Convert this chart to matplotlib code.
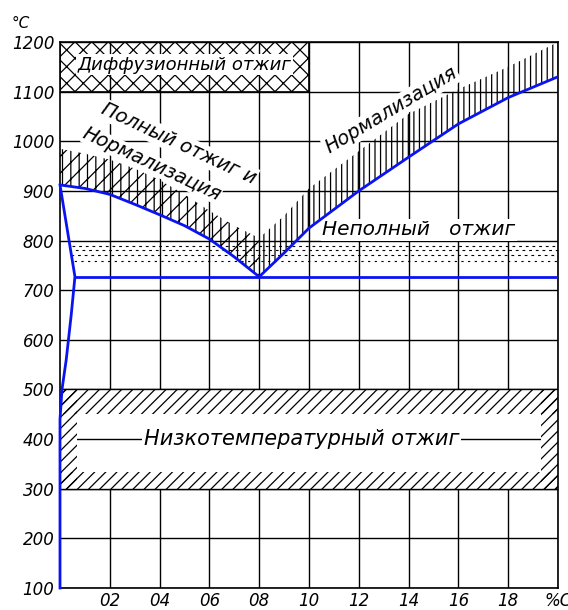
import numpy as np
import matplotlib
matplotlib.use("Agg")
import matplotlib.pyplot as plt
from matplotlib.patches import Rectangle

plt.rcParams['font.family'] = ['DejaVu Sans']
plt.rcParams['hatch.linewidth'] = 0.9

# temperature / carbon grid
temps = [100, 200, 300, 400, 500, 600, 700, 800, 900, 1000, 1100, 1200]
carbon_ticks = [0.2, 0.4, 0.6, 0.8, 1.0, 1.2, 1.4, 1.6, 1.8, 2.0]
carbon_labels = ['02', '04', '06', '08', '10', '12', '14', '16', '18', '%C']

# GS line (A3) and top of the full-anneal band
x_a3 = [0.0, 0.1, 0.2, 0.3, 0.4, 0.5, 0.6, 0.7, 0.8]
t_a3 = [912, 905, 893, 873, 852, 830, 803, 767, 727]
t_full_top = [985, 975, 963, 945, 922, 893, 860, 830, 805]

# SE line (Acm) and top of the normalization band
x_acm = [0.8, 0.9, 1.0, 1.2, 1.4, 1.6, 1.8, 2.0]
t_acm = [727, 775, 825, 900, 968, 1035, 1088, 1130]
t_norm_top = [805, 850, 905, 980, 1055, 1105, 1150, 1200]

# GP / PQ line
x_gpq = [0.0, 0.06, 0.045, 0.025, 0.008, 0.0, 0.0]
t_gpq = [912, 727, 650, 560, 500, 440, 100]

t_eutectoid = 727
x_p = 0.06

fig = plt.figure(figsize=(5.68, 6.10), dpi=100)
ax = fig.add_axes([60 / 568, 22 / 610, 498 / 568, 546 / 610])
ax.set_xlim(0, 2.0)
ax.set_ylim(100, 1200)

ax.set_axisbelow('line')
ax.grid(True, color='black', lw=1.0)
ax.set_xticks(carbon_ticks)
ax.set_xticklabels(carbon_labels)
ax.set_yticks(temps)
ax.set_yticklabels([str(t) for t in temps])
ax.tick_params(length=0, labelsize=12)
ax.tick_params(axis='x', pad=3)
ax.tick_params(axis='y', pad=4)
for lab in ax.get_xticklabels() + ax.get_yticklabels():
    lab.set_style('oblique')
for s in ax.spines.values():
    s.set_linewidth(1.2)

fig.text(21 / 568, 1 - 23 / 610, '°C', fontsize=11, style='oblique',
         ha='center', va='center')

white_box = dict(facecolor='white', edgecolor='none', pad=1)

# diffusion anneal box
ax.add_patch(Rectangle((0, 1100), 1.0, 100, facecolor='white', edgecolor='black',
                       hatch='xx', lw=1.2, zorder=1))
ax.text(0.5, 1154, 'Диффузионный отжиг', fontsize=13, style='oblique',
        ha='center', va='center', zorder=3, bbox=white_box)

# full anneal + normalization band (left)
ax.fill_between(x_a3, t_a3, t_full_top, facecolor='none', edgecolor='black',
                hatch='||//', lw=0, zorder=4)
ax.text(0.475, 995, 'Полный отжиг и', fontsize=14, style='oblique',
        rotation=-25, ha='center', va='center', zorder=3, bbox=white_box)
ax.text(0.37, 953, 'Нормализация', fontsize=14, style='oblique',
        rotation=-25, ha='center', va='center', zorder=3,
        bbox=dict(facecolor='white', edgecolor='none', pad=0))

# normalization band (right)
ax.fill_between(x_acm, t_acm, t_norm_top, facecolor='none', edgecolor='black',
                hatch='|||', lw=0, zorder=4)
ax.text(1.33, 1062, 'Нормализация', fontsize=14, style='oblique',
        rotation=31, ha='center', va='center', zorder=3, bbox=white_box)

# incomplete anneal band
ax.hlines([790, 780, 770, 759], 0.05, 2.0, colors='black', lw=0.8,
          linestyles=[(0, (2.5, 3.5)), (3, (2.5, 3.5)), (1, (2.5, 3.5)), (4, (2, 4))],
          zorder=2)
ax.text(1.44, 822, 'Неполный   отжиг', fontsize=14.5, style='oblique',
        ha='center', va='center', zorder=3, bbox=white_box)

# low temperature anneal band
ax.add_patch(Rectangle((0, 300), 2.0, 200, facecolor='white', edgecolor='none',
                       zorder=1.6))
ax.hlines(400, 0, 2.0, colors='black', lw=1.0, zorder=1.7)
for (x0, y0, w, h) in [(0, 451, 2.0, 49), (0, 300, 2.0, 34),
                       (0, 300, 0.07, 200), (1.93, 300, 0.07, 200)]:
    ax.add_patch(Rectangle((x0, y0), w, h, facecolor='white', edgecolor='none',
                           zorder=1.8))
    ax.add_patch(Rectangle((x0, y0), w, h, facecolor='none', edgecolor='black',
                           hatch='///', lw=0, zorder=1.9))
ax.hlines([300, 500], 0, 2.0, colors='black', lw=1.0, zorder=2)
ax.text(0.97, 400, 'Низкотемпературный отжиг', fontsize=15, style='oblique',
        ha='center', va='center', zorder=3, bbox=white_box)

# phase lines
blue = '#0a14f0'
ax.plot(x_a3, t_a3, color=blue, lw=2, zorder=6)
ax.plot(x_acm, t_acm, color=blue, lw=2, zorder=6)
ax.plot(x_gpq, t_gpq, color=blue, lw=2, zorder=6, clip_on=False)
ax.plot([x_p, 2.0], [t_eutectoid, t_eutectoid], color=blue, lw=2, zorder=6)

fig.savefig('out.png', dpi=100)
